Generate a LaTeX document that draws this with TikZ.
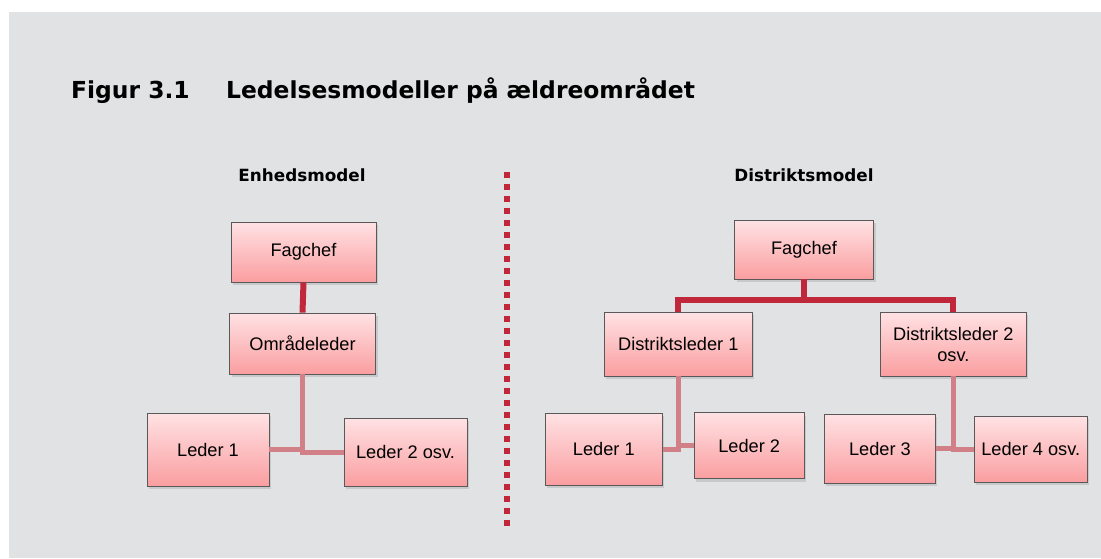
\documentclass[tikz,border=0pt]{standalone}
\usepackage{fontspec}
\setmainfont{Liberation Sans}
\newfontfamily\headfont{DejaVu Sans}
\usepackage{tikz}
\usetikzlibrary{shadows, positioning}

\definecolor{bggray}{RGB}{225,226,228}
\definecolor{boxtop}{RGB}{255,226,228}
\definecolor{boxbot}{RGB}{250,158,160}
\definecolor{darkconn}{RGB}{193,39,59}
\definecolor{lightconn}{RGB}{210,128,135}

\begin{document}
\begin{tikzpicture}[x=1pt, y=-1pt,
	box/.style={draw=black!65, line width=0.8pt, top color=boxtop, bottom color=boxbot,
		drop shadow={opacity=0.25, shadow xshift=2pt, shadow yshift=-3pt},
		font=\fontsize{18.2}{21}\selectfont, align=center, inner sep=2pt},
	strong/.style={darkconn, line width=6pt},
	weak/.style={lightconn, line width=5pt},
	head/.style={font=\headfont\bfseries\fontsize{16.8}{20}\selectfont}]
	
	% background
	\useasboundingbox (0,0) rectangle (1101,558);
	\fill[white] (0,0) rectangle (1101,558);
	\fill[bggray] (9,12) rectangle (1101,558);
	
	% title
	\node[anchor=base west, font=\headfont\bfseries\fontsize{23.4}{27}\selectfont, inner sep=0pt] (fignum) at (71,98) {Figur 3.1};
	\node[anchor=base west, font=\headfont\bfseries\fontsize{23.4}{27}\selectfont, inner sep=0pt] (figtitle) at (226,98) {Ledelsesmodeller på ældreområdet};
	
	% separator
	\draw[darkconn, line width=6pt, dash pattern=on 6pt off 6pt] (507,172) -- (507,526);
	
	% Enhedsmodel
	\node[head] (headL) at (302,175) {Enhedsmodel};
	\node[box, minimum width=145pt, minimum height=60pt] (fagL) at (303.5,252) {Fagchef};
	\node[box, minimum width=146pt, minimum height=61pt] (omr) at (302.5,343.5) {Områdeleder};
	\node[box, minimum width=122pt, minimum height=73pt] (ledL1) at (208,449.5) {Leder 1};
	\node[box, minimum width=123pt, minimum height=68pt] (ledL2) at (405.5,452) {Leder 2 osv.};
	
	\draw[strong] (fagL.south) -- (omr.north);
	\draw[weak] (omr.south) |- (ledL1.east);
	\draw[weak] (omr.south) |- (ledL2.west);
	
	% Distriktsmodel
	\node[head] (headR) at (804,175) {Distriktsmodel};
	\node[box, minimum width=139pt, minimum height=59pt] (fagR) at (804,249.5) {Fagchef};
	\node[box, minimum width=148pt, minimum height=64pt] (dist1) at (678.3,344) {Distriktsleder 1};
	\node[box, minimum width=146pt, minimum height=64pt] (dist2) at (953.3,344) {Distriktsleder 2\\osv.};
	\node[box, minimum width=117pt, minimum height=72pt] (ledR1) at (603.8,449.3) {Leder 1};
	\node[box, minimum width=110pt, minimum height=66pt] (ledR2) at (749.2,445.5) {Leder 2};
	\node[box, minimum width=111pt, minimum height=69pt] (ledR3) at (879.9,448.8) {Leder 3};
	\node[box, minimum width=113pt, minimum height=66pt] (ledR4) at (1030.7,449.2) {Leder 4 osv.};
	
	\coordinate (bar) at (804,300);
	\draw[strong] (fagR.south) -- (bar);
	\draw[strong] (dist1.north) |- (bar) -| (dist2.north);
	\draw[weak] (dist1.south) |- (ledR1.east);
	\draw[weak] (dist1.south) |- (ledR2.west);
	\draw[weak] (dist2.south) |- (ledR3.east);
	\draw[weak] (dist2.south) |- (ledR4.west);
	
\end{tikzpicture}
\end{document}
